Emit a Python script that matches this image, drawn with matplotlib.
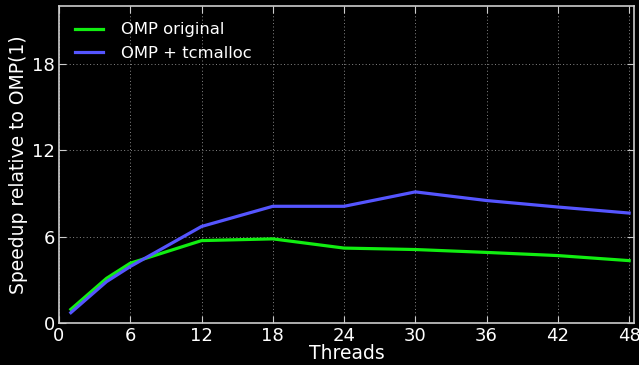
import numpy as np
import matplotlib.pyplot as plt
import matplotlib as mpl

threads = [1, 4, 6, 12, 18, 24, 30, 36, 42, 48]
omp_orig = [0.95, 3.1, 4.15, 5.72, 5.84, 5.2, 5.1, 4.9, 4.68, 4.33]
omp_tcm = [0.72, 2.87, 3.92, 6.7, 8.1, 8.1, 9.1, 8.5, 8.05, 7.63]

mpl.rcParams['font.family'] = 'DejaVu Sans'
mpl.rcParams['font.size'] = 13

fig = plt.figure(figsize=(6.39, 3.65), dpi=100, facecolor='black')
ax = fig.add_axes([0.0923, 0.115, 0.8997, 0.8686])
ax.set_facecolor('black')

ax.plot(threads, omp_orig, color='#11ee11', lw=2.3, label='OMP original')
ax.plot(threads, omp_tcm, color='#5555ff', lw=2.3, label='OMP + tcmalloc')

ax.set_xlim(0, 48.4)
ax.set_ylim(0, 22)
ax.set_xticks(np.arange(0, 49, 6))
ax.set_yticks([0, 6, 12, 18])

ax.grid(True, color='#888888', linestyle=(0, (1, 2.5)), linewidth=0.7)
for s in ax.spines.values():
    s.set_color('#cccccc')
    s.set_linewidth(1.2)
ax.tick_params(axis='both', which='both', direction='in', top=True, right=True,
               colors='#cccccc', labelcolor='white', labelsize=13, length=5, pad=3)

ax.set_xlabel('Threads', color='white', fontsize=13.5, labelpad=-1)
ax.set_ylabel('Speedup relative to OMP(1)', color='white', fontsize=13.5, labelpad=3)

leg = ax.legend(loc='upper left', frameon=False, fontsize=11.8, handlelength=1.7,
                handletextpad=1.1, borderaxespad=0.6)
for t in leg.get_texts():
    t.set_color('white')

fig.savefig('out.png', dpi=100, facecolor='black')
